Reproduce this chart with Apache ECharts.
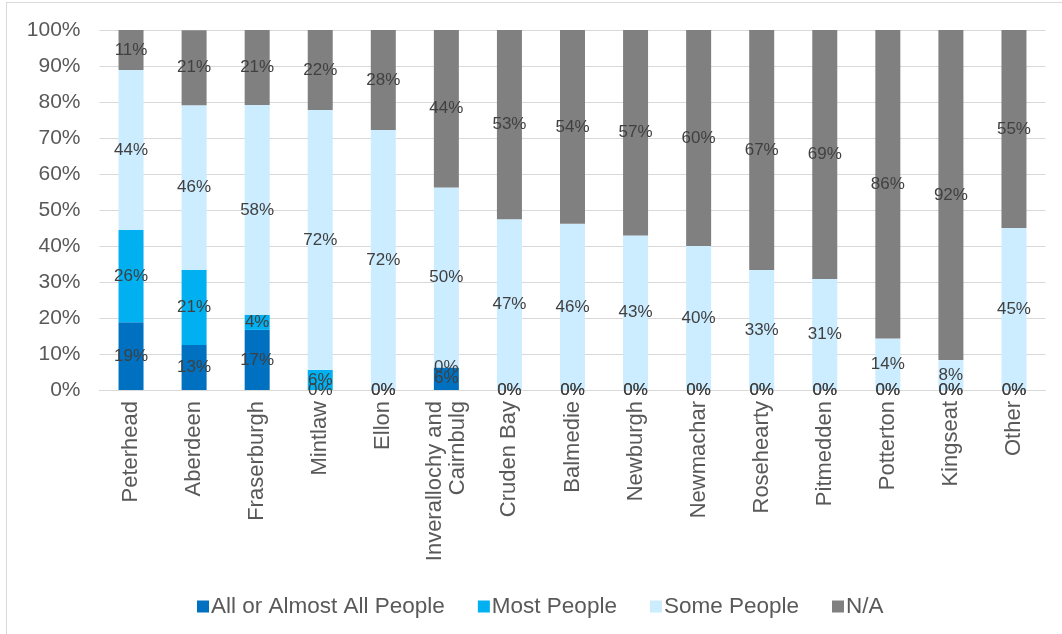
<!DOCTYPE html>
<html>
<head>
<meta charset="utf-8">
<script src="https://cdn.jsdelivr.net/npm/echarts@6/dist/echarts.min.js"></script>
<style>
html,body{margin:0;padding:0;background:#fff;}
#frame{position:absolute;left:6px;top:2px;width:1070px;height:640px;border:1px solid #d9d9d9;box-sizing:border-box;}
#chart{position:absolute;left:0;top:0;width:1062px;height:634px;}
</style>
</head>
<body>
<div id="frame"></div>
<div id="chart"></div>
<script>
const categories = ['Peterhead','Aberdeen','Fraserburgh','Mintlaw','Ellon','Inverallochy and\nCairnbulg','Cruden Bay','Balmedie','Newburgh','Newmachar','Rosehearty','Pitmedden','Potterton','Kingseat','Other'];
const allPeople  = [18.8, 12.5, 16.7, 0,    0,    6.25, 0,    0,    0,    0,  0,    0,    0,    0,    0];
const mostPeople = [25.7, 20.8, 4.2,  5.6,  0,    0,    0,    0,    0,    0,  0,    0,    0,    0,    0];
const somePeople = [44.4, 45.8, 58.3, 72.2, 72.2, 50,   47.4, 46.2, 42.9, 40, 33.3, 30.8, 14.3, 8.3,  45];
const naPeople   = [11.1, 20.8, 20.8, 22.2, 27.8, 43.75,52.6, 53.8, 57.1, 60, 66.7, 69.2, 85.7, 91.7, 55];
const yTicks = [0,10,20,30,40,50,60,70,80,90,100];

const font = '"Liberation Sans", Arial, sans-serif';
const chart = echarts.init(document.getElementById('chart'), null, {renderer:'canvas'});
function mk(name, data, color){
  return {
    name, type:'bar', stack:'s', data, barWidth:25,
    itemStyle:{color},
    label:{show:true, position:'inside', color:'#404040', fontSize:17, fontFamily:font,
      formatter: p => Math.round(p.value) + '%'},
    emphasis:{disabled:true}
  };
}
chart.setOption({
  animation:false,
  grid:{left:99.5, right:16.5, top:30, bottom:244, containLabel:false},
  legend:{
    top:590, left:192, itemWidth:12, itemHeight:12, itemGap:33,
    icon:'rect',
    textStyle:{color:'#595959', fontSize:22.5, fontFamily:font, padding:[0,0,0,-3]},
    data:['All or Almost All People','Most People','Some People','N/A']
  },
  xAxis:{
    type:'category', data:categories,
    axisLine:{lineStyle:{color:'#d9d9d9'}},
    axisTick:{show:false},
    axisLabel:{rotate:90, color:'#595959', fontSize:22, fontFamily:font, margin:11, interval:0, lineHeight:23}
  },
  yAxis:{
    type:'value', min:0, max:100, interval:10,
    axisLine:{show:false}, axisTick:{show:false},
    splitLine:{lineStyle:{color:'#d9d9d9', width:1}},
    axisLabel:{color:'#595959', fontSize:21, fontFamily:font, margin:19,
      formatter: v => v + '%'}
  },
  series:[
    mk('All or Almost All People', allPeople, '#0070C0'),
    mk('Most People', mostPeople, '#00B0F0'),
    mk('Some People', somePeople, '#CCECFF'),
    mk('N/A', naPeople, '#808080')
  ]
});
</script>
</body>
</html>
